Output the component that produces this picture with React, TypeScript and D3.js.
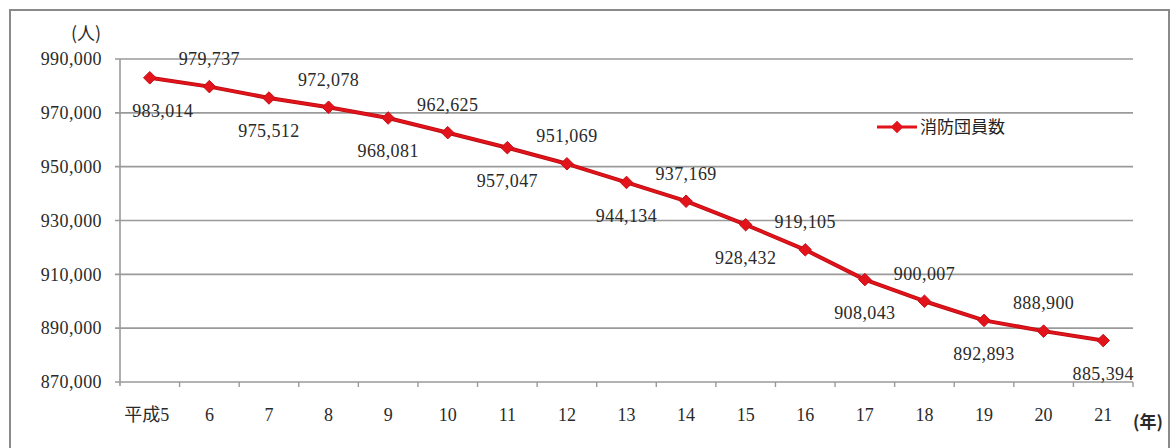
import React from "react";
import * as d3 from "d3";

// 消防団員数の推移（平成5年〜21年）
const years: string[] = ["平成5", "6", "7", "8", "9", "10", "11", "12", "13", "14", "15", "16", "17", "18", "19", "20", "21"];
const members: number[] = [
  983014, 979737, 975512, 972078, 968081, 962625, 957047, 951069, 944134,
  937169, 928432, 919105, 908043, 900007, 892893, 888900, 885394,
];
const yTicks: number[] = [870000, 890000, 910000, 930000, 950000, 970000, 990000];
const seriesName = "消防団員数";
const yUnit = "(人)";
const xUnit = "(年)";

const W = 1171;
const H = 448;
const margin = { left: 120, right: 38, top: 59, bottom: 66 };

const RED = "#e3131b";
const GRID = "#9a9a9a";
const TEXT = "#2a2a2a";
const NUM_FONT = "'Liberation Serif', 'Noto Sans CJK JP', serif";
const JP_FONT = "'Noto Sans CJK JP', sans-serif";

export default function App() {
  const x = d3
    .scaleBand<string>()
    .domain(years)
    .range([margin.left, W - margin.right])
    .paddingInner(0)
    .paddingOuter(0);
  const y = d3
    .scaleLinear()
    .domain([870000, 990000])
    .range([H - margin.bottom, margin.top]);

  const fmt = d3.format(",");
  const cx = (i: number) => (x(years[i]) as number) + x.bandwidth() / 2;

  const line = d3
    .line<number>()
    .x((_, i) => cx(i))
    .y((d) => y(d));

  const diamond = d3.symbol().type(d3.symbolDiamond2).size(100)() as string;

  const x0 = margin.left;
  const x1 = W - margin.right;
  const yBottom = y(870000);

  return (
    <div style={{ position: "fixed", left: 0, top: 0 }}>
      <svg width={W} height={H} style={{ display: "block", background: "#fff" }}>
        {/* outer frame */}
        <rect x={10} y={10} width={W - 12} height={H + 20} fill="none" stroke="#8a8a8a" strokeWidth={2} />

        {/* horizontal gridlines */}
        {yTicks.map((t) => (
          <g key={t}>
            <line x1={x0 - 5} x2={x1} y1={y(t)} y2={y(t)} stroke={GRID} strokeWidth={1.6} />
            <text
              x={102}
              y={y(t)}
              dy="0.35em"
              textAnchor="end"
              fontFamily={NUM_FONT}
              fontSize={18}
              fill={TEXT}
              letterSpacing={0.4}
            >
              {fmt(t)}
            </text>
          </g>
        ))}

        {/* y axis */}
        <line x1={x0} x2={x0} y1={y(990000)} y2={yBottom + 4} stroke={GRID} strokeWidth={1.6} />

        {/* x axis ticks between categories */}
        {years.map((yr) => (
          <line
            key={"tk" + yr}
            x1={(x(yr) as number) + x.bandwidth()}
            x2={(x(yr) as number) + x.bandwidth()}
            y1={yBottom}
            y2={yBottom + 5}
            stroke={GRID}
            strokeWidth={1.4}
          />
        ))}

        {/* category labels */}
        {years.map((yr, i) => (
          <text
            key={"lb" + yr}
            x={cx(i) - (i === 0 ? 3 : 0)}
            y={421}
            textAnchor="middle"
            fontFamily={NUM_FONT}
            fontSize={18}
            fill={TEXT}
          >
            {yr}
          </text>
        ))}

        {/* unit labels */}
        <text x={86} y={40} textAnchor="middle" fontFamily={JP_FONT} fontSize={18} fill={TEXT}>
          {yUnit}
        </text>
        <text x={1148} y={428} textAnchor="middle" fontFamily={JP_FONT} fontSize={17} fontWeight="bold" fill={TEXT}>
          {xUnit}
        </text>

        {/* series line */}
        <path d={line(members) as string} fill="none" stroke="#b80d12" strokeWidth={4} strokeLinejoin="round" />
        <path d={line(members) as string} fill="none" stroke={RED} strokeWidth={2.4} strokeLinejoin="round" />
        {members.map((v, i) => (
          <path
            key={"m" + i}
            d={diamond}
            transform={`translate(${cx(i)},${y(v)})`}
            fill={RED}
            stroke="#c40f15"
            strokeWidth={1}
          />
        ))}

        {/* data labels, alternating below / above */}
        {members.map((v, i) => (
          <text
            key={"v" + i}
            x={cx(i) + (i === 0 ? 13 : 0)}
            y={y(v) + (i % 2 === 0 ? 33 : -28)}
            dy="0.35em"
            textAnchor="middle"
            fontFamily={NUM_FONT}
            fontSize={18}
            fill={TEXT}
            letterSpacing={0.4}
          >
            {fmt(v)}
          </text>
        ))}

        {/* legend */}
        <g transform="translate(877,127)">
          <line x1={0} x2={40} y1={0} y2={0} stroke={RED} strokeWidth={3} />
          <path d={diamond} transform="translate(20,0)" fill={RED} />
          <text x={43} y={0} dy="0.35em" fontFamily={JP_FONT} fontSize={17} fill="#222">
            {seriesName}
          </text>
        </g>
      </svg>
    </div>
  );
}
